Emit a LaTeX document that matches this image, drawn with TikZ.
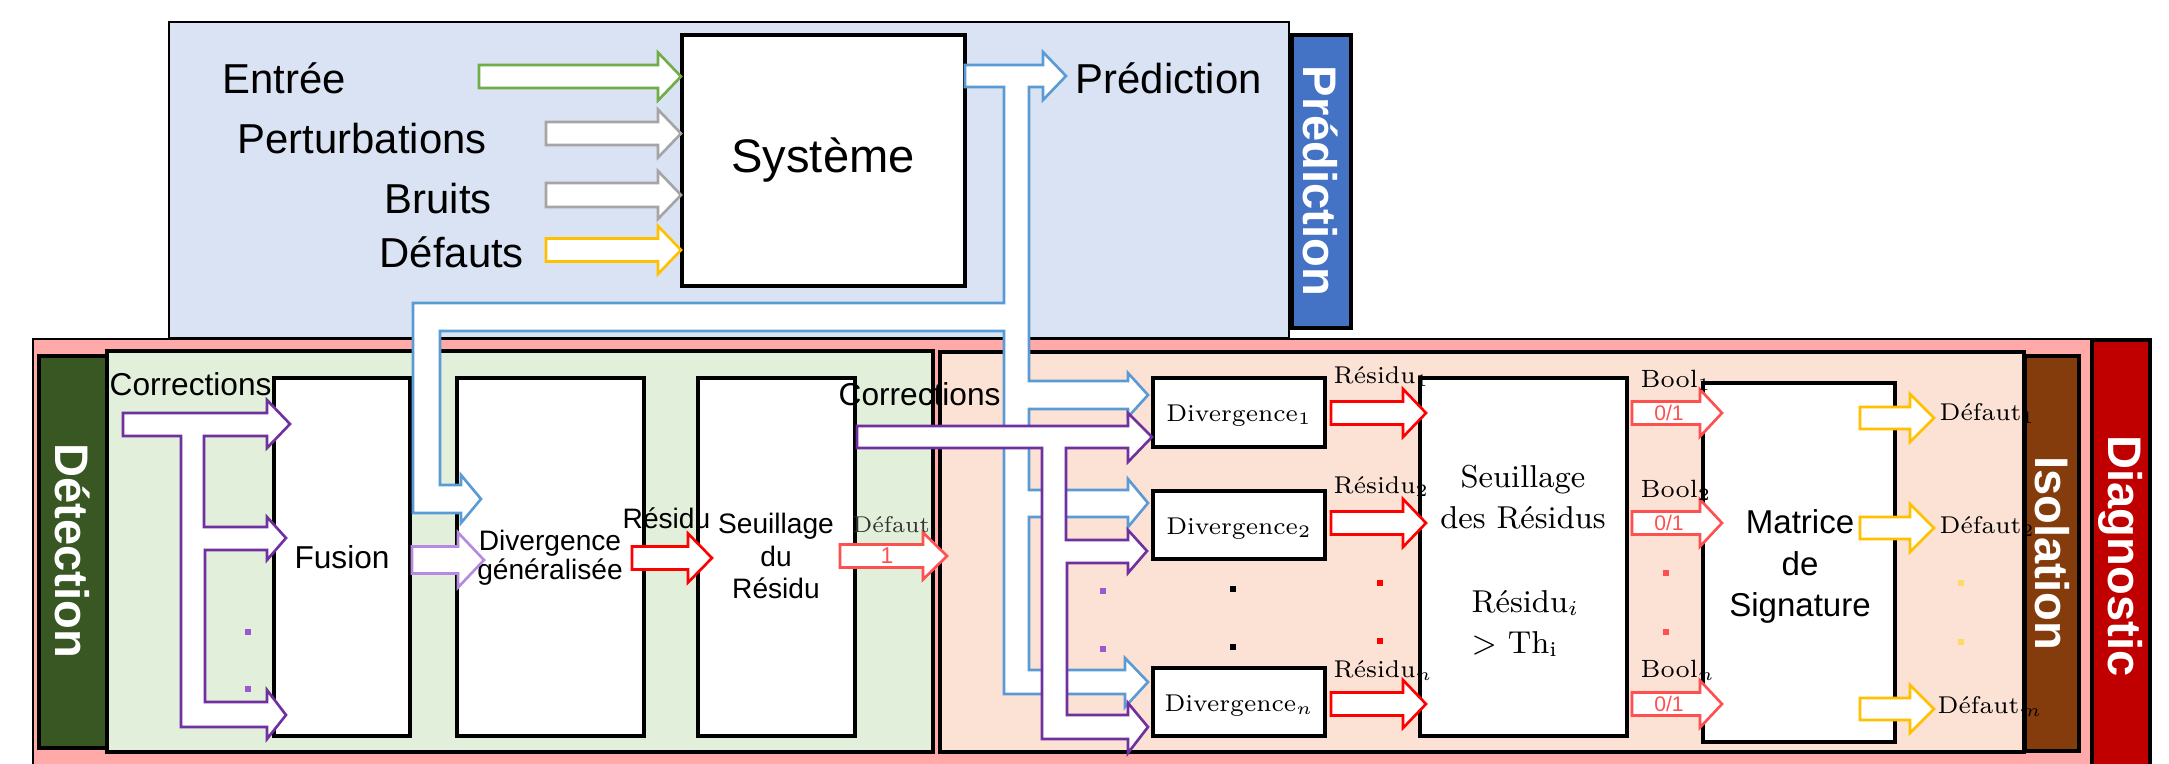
\documentclass[tikz,border=0pt]{standalone}
\usepackage{fontspec}
\newfontfamily\arial{Liberation Sans}
\definecolor{predfill}{HTML}{DAE3F3}
\definecolor{predlab}{HTML}{4472C4}
\definecolor{pinkfill}{HTML}{FFA9A9}
\definecolor{detfill}{HTML}{E2EFDA}
\definecolor{detlab}{HTML}{385723}
\definecolor{isofill}{HTML}{FBE2D5}
\definecolor{isolab}{HTML}{843C0C}
\definecolor{diaglab}{HTML}{C00000}
\definecolor{cblue}{HTML}{5B9BD5}
\definecolor{cgreen}{HTML}{70AD47}
\definecolor{cgray}{HTML}{A5A5A5}
\definecolor{cyellow}{HTML}{FFC000}
\definecolor{cpurple}{HTML}{7030A0}
\definecolor{clavender}{HTML}{B58AE0}
\definecolor{cdot}{HTML}{9B59D0}
\definecolor{cred}{HTML}{FF0000}
\definecolor{clred}{HTML}{FF5050}
\definecolor{cydot}{HTML}{FFD966}
% block arrow: [style]{tail x}{head base x}{tip x}{centre y}{half shaft}{half head}
\newcommand\blockarrow[7][]{%
  \draw[#1] (#2,{#5-#6}) -- (#3,{#5-#6}) -- (#3,{#5-#7}) -- (#4,#5)
    -- (#3,{#5+#7}) -- (#3,{#5+#6}) -- (#2,{#5+#6}) -- cycle;}
\begin{document}
\begin{tikzpicture}[x=0.01cm,y=-0.01cm,line join=miter,
  panel/.style={draw=black,line width=0.7pt},
  box/.style={draw=black,fill=white,line width=1pt},
  arr/.style={fill=white,line width=0.75pt},
  vlab/.style={rotate=-90,text=white,font=\arial\bfseries\fontsize{13.4}{15}\selectfont},
  sbig/.style={font=\arial\fontsize{11.9}{14}\selectfont},
  smid/.style={font=\arial\fontsize{9}{11}\selectfont},
  ssmall/.style={font=\arial\fontsize{8}{10}\selectfont},
  rlab/.style={font=\fontsize{6.9}{8}\selectfont},
  dot/.style={minimum size=1.9pt,inner sep=0pt},
  every node/.style={inner sep=0pt}]
\useasboundingbox (0,0) rectangle (2169,763);
\clip (0,0) rectangle (2169,763);

% ---------- panels ----------
\fill[white] (0,0) rectangle (2169,763);
\draw[panel,fill=predfill] (169,22) rectangle (1289,338);
\draw[panel,line width=1pt,fill=predlab] (1292,35) rectangle (1351,328);
\draw[panel,fill=pinkfill] (33,339) rectangle (2150,790);
\draw[panel,line width=1pt,fill=diaglab] (2092,340) rectangle (2150,790);
\draw[panel,line width=1pt,fill=detfill] (107,351) rectangle (933,752);
\draw[panel,line width=1pt,fill=detlab] (39,356) rectangle (107,748);
\draw[panel,line width=1pt,fill=isofill] (940,352) rectangle (2024,752);
\draw[panel,line width=1pt,fill=isolab] (2025,356) rectangle (2079,751);

\node[vlab] (labpred) at (1321,181) {Prédiction};
\node[vlab] (labdet) at (73,551) {Détection};
\node[vlab] (labiso) at (2052,553) {Isolation};
\node[vlab] (labdiag) at (2121,556) {Diagnostic};

% ---------- blocks ----------
\draw[box] (682,35) rectangle (965,286);
\node[font=\arial\fontsize{13.4}{16}\selectfont] (sys) at (823,160) {Système};

\draw[box] (274,378) rectangle (410,736);
\node[smid,anchor=base] (fusion) at (342,568) {Fusion};

\draw[box] (457,378) rectangle (644,736);
\node[ssmall,anchor=base] (divg1) at (550,550) {Divergence};
\node[ssmall,anchor=base] (divg2) at (550,579) {généralisée};

\draw[box] (698,378) rectangle (855,736);
\node[ssmall,anchor=base] (seu1) at (776,533) {Seuillage};
\node[ssmall,anchor=base] (seu2) at (776,566) {du};
\node[ssmall,anchor=base] (seu3) at (776,598) {Résidu};

\draw[box] (1153,378) rectangle (1325,447);
\draw[box] (1153,491) rectangle (1325,559);
\draw[box] (1153,668) rectangle (1325,736);
\node[rlab,anchor=base] (div1) at (1239,421) {Divergence$_1$};
\node[rlab,anchor=base] (div2) at (1239,534) {Divergence$_2$};
\node[rlab,anchor=base] (divn) at (1239,711) {Divergence$_n$};

\draw[box] (1420,378) rectangle (1627,736);
\node[font=\fontsize{9}{11}\selectfont,anchor=base] (sr1) at (1523,487) {Seuillage};
\node[font=\fontsize{9}{11}\selectfont,anchor=base] (sr2) at (1523,528) {des Résidus};
\node[font=\fontsize{9}{11}\selectfont,anchor=base west] (sr3) at (1471,612) {Résidu$_i$};
\node[font=\fontsize{9}{11}\selectfont,anchor=base west] (sr4) at (1471,653) {$>$ Th$_{\mathrm{i}}$};

\draw[box] (1703,383) rectangle (1895,742);
\node[font=\arial\fontsize{9.4}{11}\selectfont,anchor=base] (mat1) at (1800,533) {Matrice};
\node[font=\arial\fontsize{9.4}{11}\selectfont,anchor=base] (mat2) at (1800,575) {de};
\node[font=\arial\fontsize{9.4}{11}\selectfont,anchor=base] (mat3) at (1800,616) {Signature};

% ---------- prediction inputs ----------
\node[sbig,anchor=base west] (entree) at (222,93) {Entrée};
\node[sbig,anchor=base west] (pert) at (237,153) {Perturbations};
\node[sbig,anchor=base west] (bruit) at (384,213) {Bruits};
\node[sbig,anchor=base west] (defs) at (379,267) {Défauts};
\node[sbig,anchor=base west] (pred) at (1075,93) {Prédiction};

\blockarrow[arr,draw=cgreen]{479}{658}{681}{76.5}{11.5}{24}
\blockarrow[arr,draw=cgray]{546}{658}{681}{133.5}{11.5}{24}
\blockarrow[arr,draw=cgray]{546}{658}{681}{195}{12}{24}
\blockarrow[arr,draw=cyellow]{546}{658}{681}{250}{11.5}{24}

% ---------- prediction feedback tree ----------
\draw[arr,draw=cblue] (965,65) -- (1043,65) -- (1043,52) -- (1066,76) -- (1043,100)
  -- (1043,87) -- (1029,87) -- (1029,381) -- (1128,381) -- (1128,373) -- (1148,395)
  -- (1128,417) -- (1128,409) -- (1029,409) -- (1029,490) -- (1128,490) -- (1128,479)
  -- (1148,503) -- (1128,527) -- (1128,517) -- (1029,517) -- (1029,670) -- (1125,670)
  -- (1125,658) -- (1148,682) -- (1125,707) -- (1125,694) -- (1004,694) -- (1004,331)
  -- (440,331) -- (440,485) -- (461,485) -- (461,475) -- (481,499) -- (461,523)
  -- (461,513) -- (413,513) -- (413,303) -- (1004,303) -- (1004,87) -- (965,87) -- cycle;

% ---------- corrections (detection) ----------
\node[smid,anchor=base west] (corr1) at (109,395) {Corrections};
\draw[arr,draw=cpurple] (123,413) -- (267,413) -- (267,400) -- (290,424) -- (267,448)
  -- (267,436) -- (204,436) -- (204,527) -- (267,527) -- (267,517) -- (286,538)
  -- (267,560) -- (267,550) -- (205,550) -- (205,702) -- (267,702) -- (267,690)
  -- (286,715) -- (267,739) -- (267,727) -- (181,727) -- (181,436) -- (123,436) -- cycle;
\node[dot,fill=cdot] (pd1) at (248,632) {};
\node[dot,fill=cdot] (pd2) at (248,689) {};

% ---------- detection chain ----------
\blockarrow[arr,draw=clavender]{412}{458}{484}{560}{13.5}{27.5}
\blockarrow[arr,draw=cred]{632}{688}{712}{558}{11.5}{24.5}
\node[ssmall,anchor=base west] (res) at (622,528) {Résidu};
\blockarrow[arr,draw=clred]{840}{923}{947}{556}{11.5}{23.5}
\node[font=\fontsize{6.5}{8}\selectfont,text=black!80,anchor=base west] (def1) at (852,532) {Défaut};
\node[font=\arial\fontsize{6.5}{8}\selectfont,text=clred] (one) at (887,556) {1};

% ---------- corrections (diagnostic) ----------
\node[smid,anchor=base west] (corr2) at (838,405) {Corrections};
\draw[arr,draw=cpurple] (857,426) -- (1128,426) -- (1128,413) -- (1152,437) -- (1128,462)
  -- (1128,448) -- (1066,448) -- (1066,540) -- (1128,540) -- (1128,530) -- (1147,551)
  -- (1128,573) -- (1128,563) -- (1067,563) -- (1067,715) -- (1128,715) -- (1128,703)
  -- (1148,727) -- (1128,753) -- (1128,739) -- (1042,739) -- (1042,448) -- (857,448) -- cycle;
\node[dot,fill=cdot] (pd3) at (1103,591) {};
\node[dot,fill=cdot] (pd4) at (1103,649) {};
\node[dot,fill=black] (bd1) at (1233,589) {};
\node[dot,fill=black] (bd2) at (1233,647) {};

% ---------- residuals ----------
\foreach \yc in {413,523,704}{
  \blockarrow[arr,draw=cred]{1331}{1403}{1426}{\yc}{11.5}{24}
}
\node[rlab,anchor=base west] (r1) at (1333,383) {Résidu$_1$};
\node[rlab,anchor=base west] (r2) at (1333,493) {Résidu$_2$};
\node[rlab,anchor=base west] (rn) at (1333,677) {Résidu$_n$};
\node[dot,fill=cred] (rd1) at (1380,583) {};
\node[dot,fill=cred] (rd2) at (1380,641) {};

% ---------- booleans ----------
\foreach \yc in {413,523,704}{
  \blockarrow[arr,draw=clred]{1632}{1700}{1722}{\yc}{11.5}{23.5}
  \node[font=\arial\fontsize{6}{7}\selectfont,text=clred] at (1669,\yc) {0/1};
}
\node[font=\fontsize{7.1}{8}\selectfont,anchor=base west] (b1) at (1640,387) {Bool$_1$};
\node[font=\fontsize{7.1}{8}\selectfont,anchor=base west] (b2) at (1640,497) {Bool$_2$};
\node[font=\fontsize{7.1}{8}\selectfont,anchor=base west] (bn) at (1640,677) {Bool$_n$};
\node[dot,fill=clred] (ld1) at (1666,573) {};
\node[dot,fill=clred] (ld2) at (1666,632) {};

% ---------- isolated faults ----------
\foreach \yc in {418,528,709}{
  \blockarrow[arr,draw=cyellow]{1860}{1910}{1934}{\yc}{11}{24}
}
\node[rlab,anchor=base west] (d1) at (1939,420) {Défaut$_1$};
\node[rlab,anchor=base west] (d2) at (1939,533) {Défaut$_2$};
\node[rlab,anchor=base west] (dm) at (1937,713) {Défaut$_m$};
\node[dot,fill=cydot] (yd1) at (1961,583) {};
\node[dot,fill=cydot] (yd2) at (1961,642) {};
\end{tikzpicture}
\end{document}
